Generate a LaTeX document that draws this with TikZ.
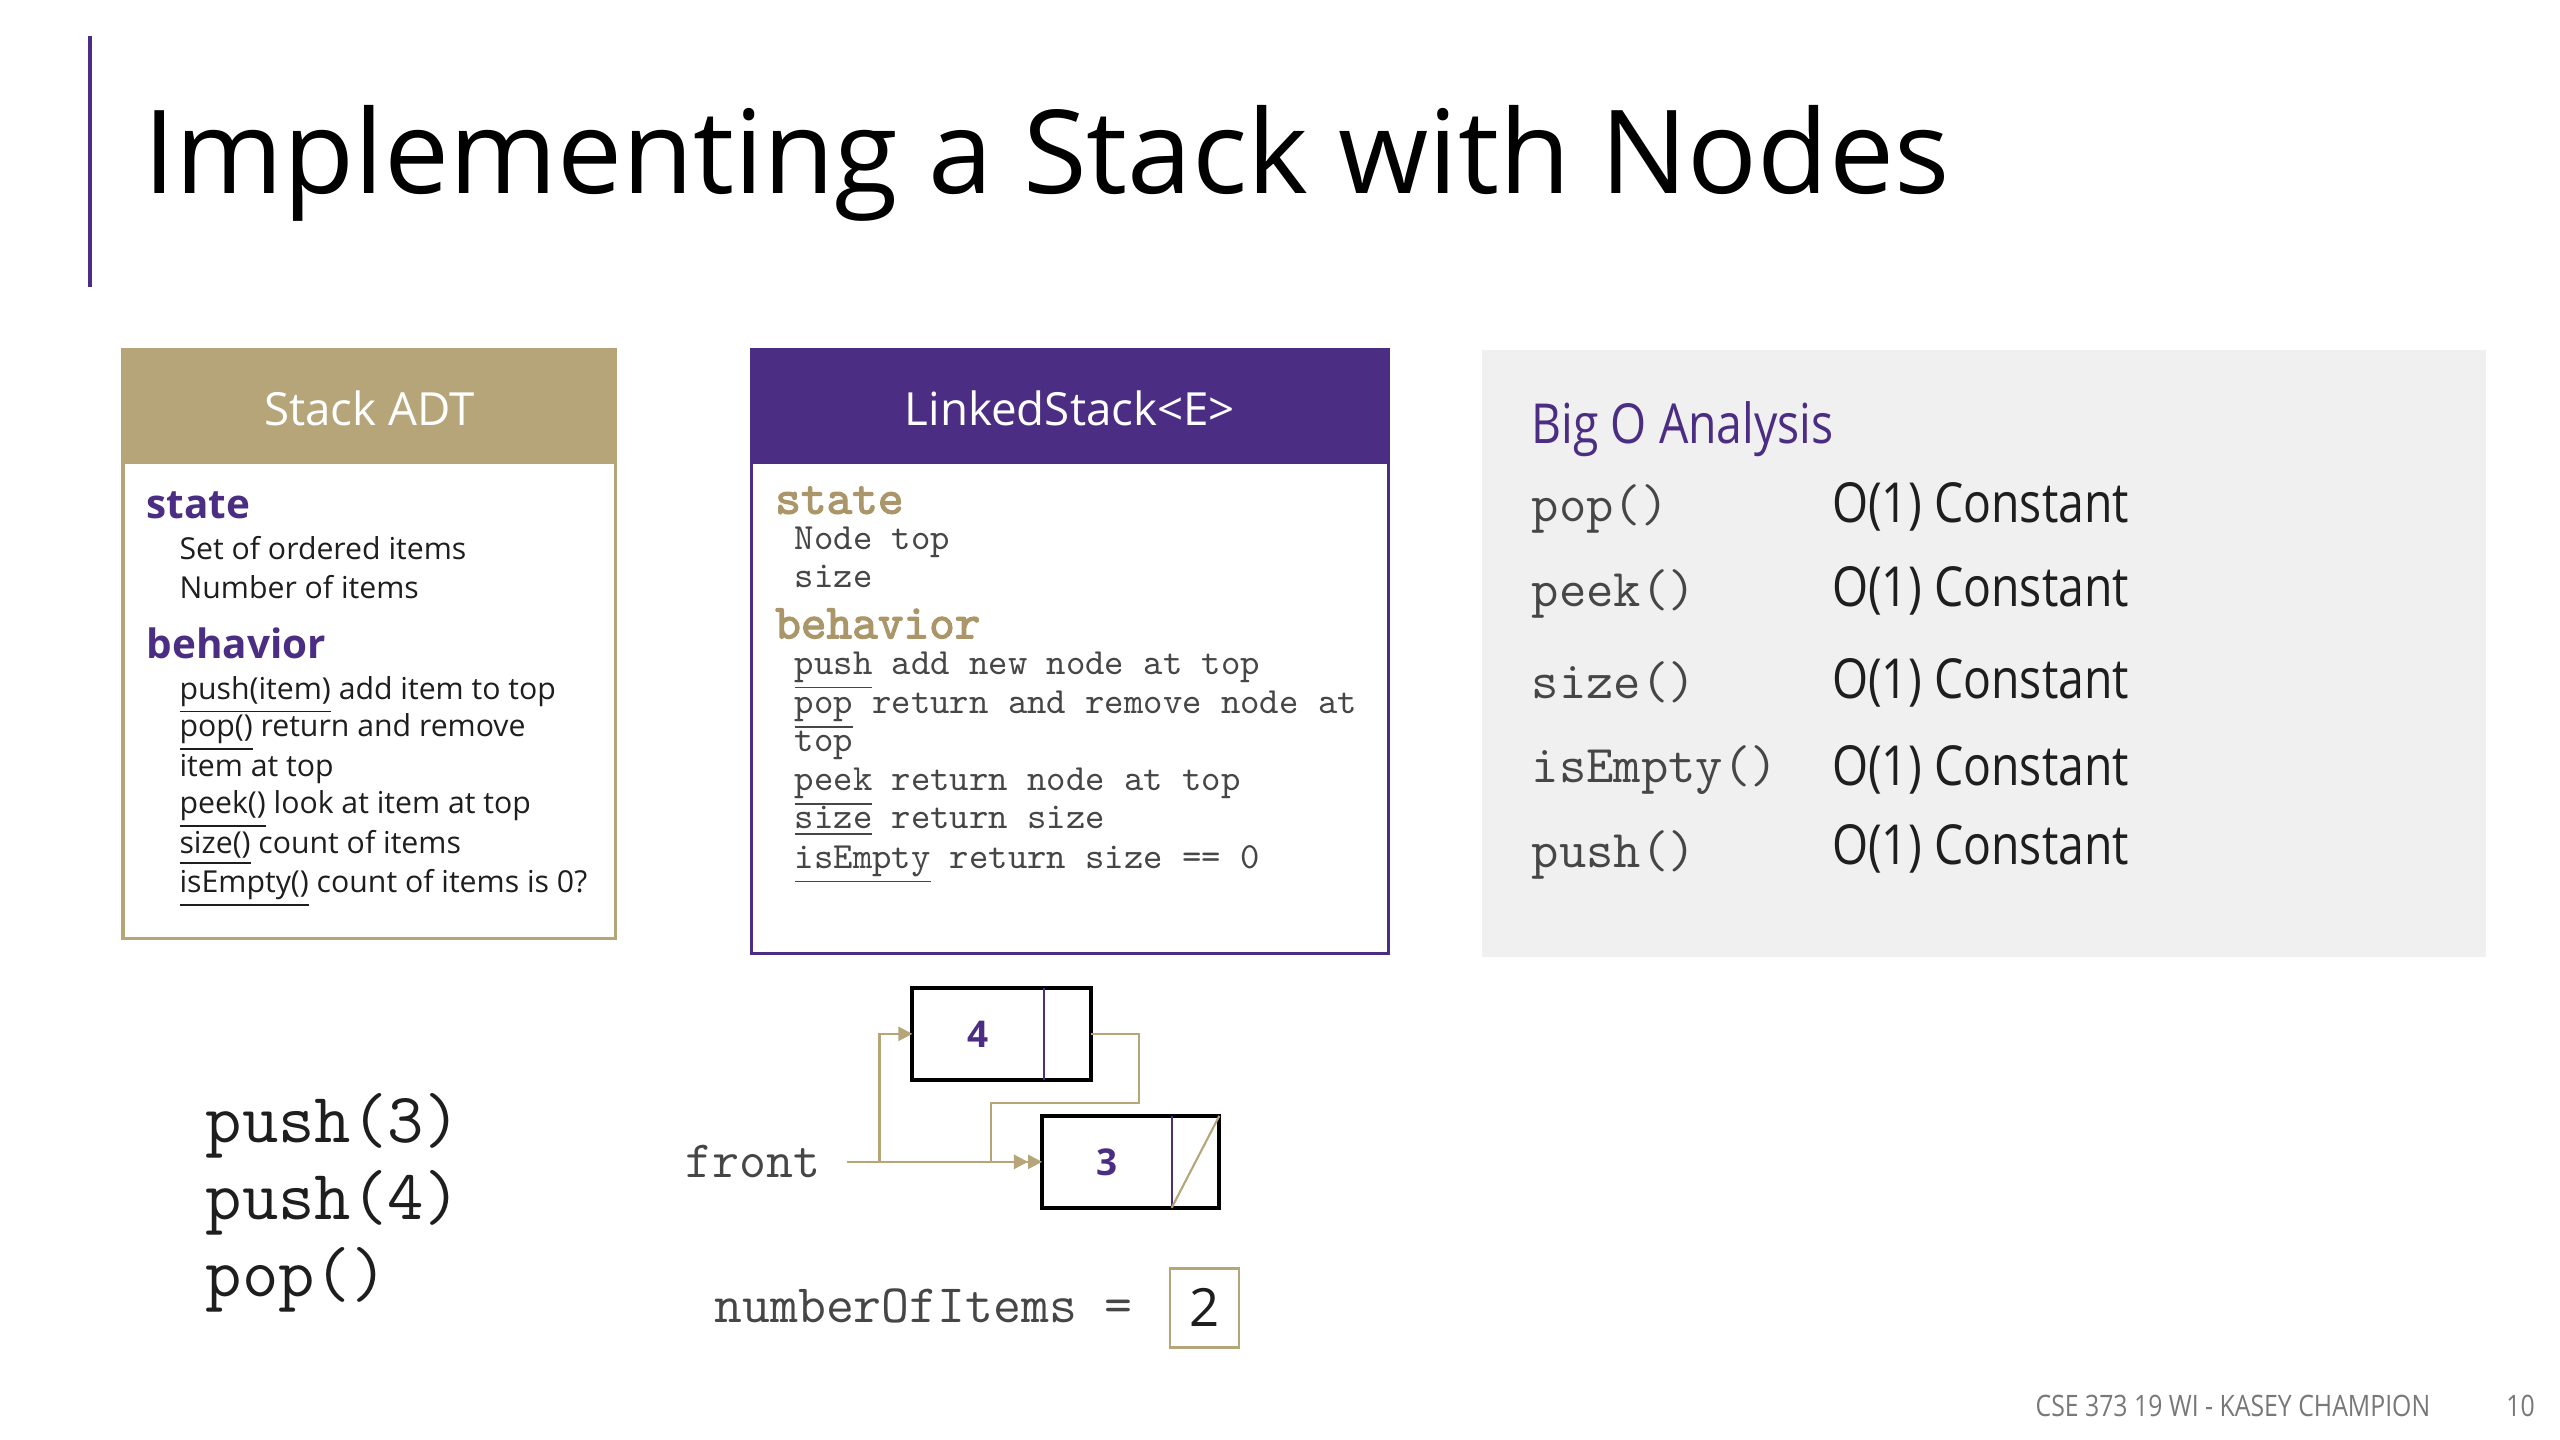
\documentclass[tikz,border=0pt]{standalone}
\usepackage{fontspec}
\setmainfont{Open Sans}
\newfontfamily\narrowsans{Open Sans}[FakeStretch=0.84]
\newfontfamily\codebold{lmmono10-regular}[Extension=.otf, FakeBold=2.5]
\usetikzlibrary{positioning,arrows.meta}
\definecolor{uwpurple}{RGB}{75,46,131}
\definecolor{uwgold}{RGB}{183,165,122}
\definecolor{codegold}{RGB}{170,150,105}
\definecolor{textdark}{RGB}{30,30,30}
\definecolor{codegray}{RGB}{70,70,70}
\definecolor{footgray}{RGB}{120,120,120}
\definecolor{panelgray}{RGB}{240,240,240}

\begin{document}
\begin{tikzpicture}[x=0.1641mm, y=-0.1641mm,
		body/.style={anchor=base west, inner sep=0pt, font=\fontsize{8.6}{10}\selectfont, text=textdark},
		head/.style={anchor=base west, inner sep=0pt, font=\fontsize{11.5}{13}\selectfont\bfseries, text=uwpurple},
		code/.style={anchor=base west, inner sep=0pt, font=\ttfamily\fontsize{10.5}{12}\selectfont, text=codegray},
		codehead/.style={anchor=base west, inner sep=0pt, font=\codebold\fontsize{13.9}{16}\selectfont, text=codegold},
		bigo/.style={anchor=west, inner sep=0pt, font=\narrowsans\fontsize{15.7}{18}\selectfont, text=textdark},
		call/.style={anchor=west, inner sep=0pt, font=\ttfamily\fontsize{20.1}{23}\selectfont, text=textdark},
		cell/.style={minimum height=9.19mm, inner sep=0pt, outer sep=0pt},
		ptr/.style={uwgold, line width=0.7pt, -{Triangle[length=4pt,width=4pt]}}]
	\useasboundingbox (0,0) rectangle (1560,877.5);
	\fill[white] (0,0) rectangle (1560,877.5);

	% title
	\draw[uwpurple, line width=1.2pt] (55,22) -- (55,175);
	\node[anchor=base west, inner sep=0pt, font=\fontsize{33}{40}\selectfont] (title) at (87,118) {Implementing a Stack with Nodes};

	% Stack ADT
	\draw[uwgold, line width=0.9pt] (75,213) rectangle (375,572);
	\fill[uwgold] (75,213) rectangle (375,283);
	\node[text=white, font=\fontsize{13}{15}\selectfont] (adt) at (225,249) {Stack ADT};
	\node[head] (adtstate) at (89,316) {state};
	\node[body] (adts1) at (109,341) {Set of ordered items};
	\node[body] (adts2) at (109,365) {Number of items};
	\node[head] (adtbeh) at (89,401) {behavior};
	\node[body] (adtb1) at (109,426) {\underline{push(item)} add item to top};
	\node[body] (adtb2) at (109,449) {\underline{pop()} return and remove};
	\node[body] (adtb3) at (109,473) {item at top};
	\node[body] (adtb4) at (109,496) {\underline{peek()} look at item at top};
	\node[body] (adtb5) at (109,520) {\underline{size()} count of items};
	\node[body] (adtb6) at (109,544) {\underline{isEmpty()} count of items is 0?};

	% LinkedStack
	\draw[uwpurple, line width=0.9pt] (458,213) rectangle (846,581);
	\fill[uwpurple] (458,213) rectangle (846,283);
	\node[text=white, font=\fontsize{13}{15}\selectfont] (lst) at (652,249) {LinkedStack<E>};
	\node[codehead] (lststate) at (472,313) {state};
	\node[code] (lsts1) at (484,335) {Node top};
	\node[code] (lsts2) at (484,358) {size};
	\node[codehead] (lstbeh) at (472,389) {behavior};
	\node[code] (lstb1) at (484,411) {\underline{push} add new node at top};
	\node[code] (lstb2) at (484,435) {\underline{pop} return and remove node at};
	\node[code] (lstb3) at (484,458) {top};
	\node[code] (lstb4) at (484,482) {\underline{peek} return node at top};
	\node[code] (lstb5) at (484,505) {\underline{size} return size};
	\node[code] (lstb6) at (484,529) {\underline{isEmpty} return size == 0};

	% Big O
	\fill[panelgray] (903,213) rectangle (1515,583);
	\node[anchor=base west, inner sep=0pt, font=\narrowsans\fontsize{15.7}{18}\selectfont, text=uwpurple] (bigo) at (933,270) {Big O Analysis};
	\foreach \m/\ya/\yb [count=\i] in {pop()/310/309, peek()/362/360, size()/416/416, isEmpty()/469/469, push()/521/517} {
		\node[anchor=west, inner sep=0pt, font=\ttfamily\fontsize{15.1}{17}\selectfont, text=codegray] (op-\i) at (933,\ya) {\m};
		\node[bigo] (cost-\i) at (1116,\yb) {O(1) Constant};
	}

	% calls
	\node[call] (call1) at (125,686) {push(3)};
	\node[call] (call2) at (125,733) {push(4)};
	\node[call] (call3) at (125,780) {pop()};

	% linked nodes
	\node[cell, minimum width=13.13mm, font=\bfseries\fontsize{10.5}{12}\selectfont, text=uwpurple] (v4) at (596,630) {4};
	\node[cell, minimum width=4.76mm, right=0pt of v4] (p4) {};
	\draw[black, line width=1.1pt] (v4.north west) rectangle (p4.south east);
	\draw[uwpurple, line width=0.5pt] (p4.north west) -- (p4.south west);

	\node[cell, minimum width=12.96mm, font=\bfseries\fontsize{10.5}{12}\selectfont, text=uwpurple] (v3) at (674.5,708) {3};
	\node[cell, minimum width=4.76mm, right=0pt of v3] (p3) {};
	\draw[black, line width=1.1pt] (v3.north west) rectangle (p3.south east);
	\draw[uwpurple, line width=0.5pt] (p3.north west) -- (p3.south west);
	\draw[uwgold, line width=0.6pt] (p3.south west) -- (p3.north east);

	\node[anchor=east, inner sep=0pt, outer xsep=7.5pt, font=\ttfamily\fontsize{14.9}{17}\selectfont, text=codegray] (front) at (516,708) {front};
	\draw[ptr] (front.east) -- (v3.west);
	\draw[ptr] (front.east) -- ++(20,0) |- (v4.west);
	\draw[ptr, shorten >=4pt] (p4.east) -- ++(29,0) -- ++(0,42) -- ++(-90,0) |- (v3.west);

	% size field
	\node[anchor=west, inner sep=0pt, font=\ttfamily\fontsize{15.4}{18}\selectfont, text=codegray] (items) at (435,796) {numberOfItems =};
	\node[draw=uwgold, line width=0.8pt, minimum width=6.9mm, minimum height=7.88mm, inner sep=0pt, font=\fontsize{15}{17}\selectfont, text=textdark] (count) at (734,797) {2};

	% footer
	\node[anchor=west, inner sep=0pt, font=\narrowsans\fontsize{8.4}{10}\selectfont, text=footgray] (foot) at (1240,857) {CSE 373 19 WI - KASEY CHAMPION};
	\node[anchor=east, inner sep=0pt, font=\narrowsans\fontsize{8.4}{10}\selectfont, text=footgray] (page) at (1545,857) {10};
\end{tikzpicture}
\end{document}
